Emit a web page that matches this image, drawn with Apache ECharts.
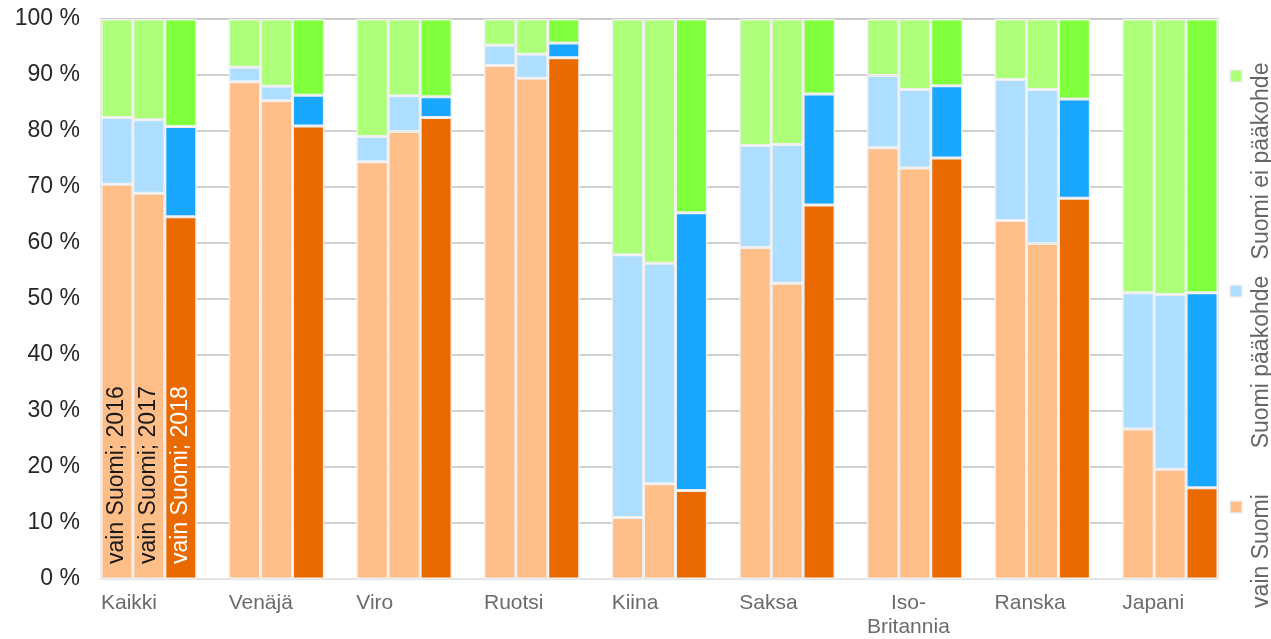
<!DOCTYPE html>
<html>
<head>
<meta charset="utf-8">
<script src="https://cdn.jsdelivr.net/npm/echarts@6/dist/echarts.min.js"></script>
<style>
  html, body { margin: 0; padding: 0; background: #fff; }
  #chart { width: 1271px; height: 639px; }
</style>
</head>
<body>
<div id="chart"></div>
<script>
// kategoriat ja vuodet
const categories = ['Kaikki', 'Venäjä', 'Viro', 'Ruotsi', 'Kiina', 'Saksa', 'Iso-\nBritannia', 'Ranska', 'Japani'];
const years = ['2016', '2017', '2018'];

// osuudet (%), luettu kuvasta
const vainSuomi2016 = [70.5, 88.8, 74.5, 91.7, 11.0, 59.2, 77.0, 64.0, 26.8];
const vainSuomi2017 = [68.9, 85.4, 79.9, 89.4, 17.0, 52.8, 73.4, 59.9, 19.6];
const vainSuomi2018 = [64.7, 80.9, 82.4, 93.1, 15.8, 66.8, 75.2, 68.0, 16.3];

const paakohde2016 = [11.9, 2.6, 4.5, 3.6, 46.9, 18.2, 12.9, 25.2, 24.3];
const paakohde2017 = [13.1, 2.6, 6.4, 4.3, 39.4, 24.8, 14.0, 27.5, 31.2];
const paakohde2018 = [16.1, 5.5, 3.7, 2.6, 49.6, 19.8, 12.9, 17.7, 34.8];

const eiPaakohde2016 = [17.6, 8.6, 21.0, 4.7, 42.1, 22.6, 10.1, 10.8, 48.9];
const eiPaakohde2017 = [18.0, 12.0, 13.7, 6.3, 43.6, 22.4, 12.6, 12.6, 49.2];
const eiPaakohde2018 = [19.2, 13.6, 13.9, 4.3, 34.6, 13.4, 11.9, 14.3, 48.9];

const yTicks = [0, 10, 20, 30, 40, 50, 60, 70, 80, 90, 100];

const groups = [
  { name: 'vain Suomi', values: [vainSuomi2016, vainSuomi2017, vainSuomi2018], light: '#ffbd88', dark: '#eb6a00' },
  { name: 'Suomi pääkohde', values: [paakohde2016, paakohde2017, paakohde2018], light: '#addeff', dark: '#19a6ff' },
  { name: 'Suomi ei pääkohde', values: [eiPaakohde2016, eiPaakohde2017, eiPaakohde2018], light: '#adff7a', dark: '#80ff3c' }
];

const FONT = 'Liberation Sans, Arial, sans-serif';
// jokaisella maalla 3 pylvästä + tyhjä väli, viimeisen jälkeen ei väliä
const slotCount = categories.length * 4 - 1;
let slots = [];
for (let s = 0; s < slotCount; s++) slots.push('s' + s);

let myChart = echarts.init(document.getElementById('chart'));

let series = groups.map(function (g, gi) {
  let data = slots.map(function (s, si) {
    let i = Math.floor(si / 4);
    let yi = si % 4;
    if (yi === 3) return '-';
    let item = {
      value: g.values[yi][i],
      itemStyle: { color: yi === 2 ? g.dark : g.light }
    };
    // sarjan nimi pystytekstinä ensimmäisessä ryhmässä
    if (gi === 0 && i === 0) {
      item.label = {
        show: true,
        formatter: g.name + '; ' + years[yi],
        color: yi === 2 ? '#ffffff' : '#1a1a1a'
      };
    }
    return item;
  });
  return {
    name: g.name,
    type: 'bar',
    stack: 'total',
    barCategoryGap: '0%',
    itemStyle: { borderColor: '#efefef', borderWidth: 1.5 },
    label: {
      show: false,
      position: 'insideBottom',
      rotate: 90,
      align: 'left',
      verticalAlign: 'middle',
      distance: 15,
      fontSize: 23,
      fontFamily: FONT
    },
    data: data
  };
});

// pystysuuntainen selite oikealla
let legendPos = [
  { marker: 507, text: 551 },
  { marker: 291, text: 362 },
  { marker: 76, text: 161 }
];
let legendGraphics = [];
groups.forEach(function (g, gi) {
  legendGraphics.push({
    type: 'rect',
    shape: { x: 1230, y: legendPos[gi].marker - 6, width: 12, height: 12 },
    style: { fill: g.light, stroke: '#eeeeee', lineWidth: 1.5 }
  });
  legendGraphics.push({
    type: 'text',
    x: 1262,
    y: legendPos[gi].text,
    rotation: Math.PI / 2,
    style: {
      text: g.name,
      x: 0,
      y: 0,
      align: 'center',
      verticalAlign: 'middle',
      fontSize: 23,
      fontFamily: FONT,
      fill: '#666666'
    }
  });
});

let option = {
  animation: false,
  backgroundColor: '#ffffff',
  grid: {
    left: 101,
    right: 53,
    top: 19,
    bottom: 60,
    show: true,
    borderColor: '#e6e6e6',
    borderWidth: 2
  },
  xAxis: [
    {
      type: 'category',
      data: slots,
      z: 1,
      axisLine: { show: true, lineStyle: { color: '#e3e3e3', width: 2 } },
      axisTick: { show: false },
      axisLabel: { show: false },
      splitLine: { show: false }
    },
    {
      // vain maiden nimiä varten: nimi alkaa ryhmän vasemmasta reunasta
      type: 'value',
      position: 'bottom',
      min: 0,
      max: slotCount,
      interval: 4,
      axisLine: { show: false },
      axisTick: { show: false },
      splitLine: { show: false },
      axisLabel: {
        align: 'left',
        margin: 12,
        fontSize: 21,
        fontFamily: FONT,
        color: '#6b6b6b',
        lineHeight: 24,
        showMaxLabel: false,
        formatter: function (v) {
          if (v % 4 !== 0 || v / 4 >= categories.length) return '';
          return categories[v / 4].split('\n').map(function (s) { return '{c|' + s + '}'; }).join('\n');
        },
        rich: {
          c: { align: 'center', fontSize: 21, fontFamily: FONT, color: '#6b6b6b', lineHeight: 24 }
        }
      }
    }
  ],
  yAxis: {
    type: 'value',
    min: yTicks[0],
    max: yTicks[yTicks.length - 1],
    interval: yTicks[1] - yTicks[0],
    axisLine: { show: false },
    axisTick: { show: false },
    axisLabel: {
      formatter: '{value} %',
      fontSize: 23,
      fontFamily: FONT,
      color: '#262626',
      margin: 21
    },
    splitLine: { show: true, lineStyle: { color: '#c0c0c0', width: 1.5 } }
  },
  series: series,
  graphic: legendGraphics
};

myChart.setOption(option);
</script>
</body>
</html>
